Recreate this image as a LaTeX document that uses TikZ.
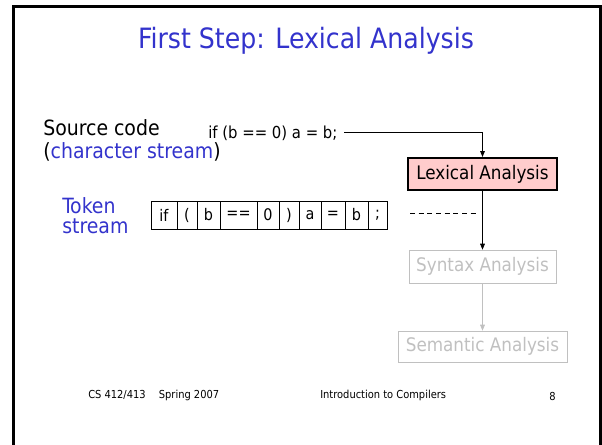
\documentclass[tikz,border=0pt]{standalone}
\usepackage{fontspec}
\setmainfont{DejaVu Sans Condensed}
\usetikzlibrary{positioning}
\usetikzlibrary{arrows.meta}

\definecolor{titleblue}{RGB}{51,51,204}
\definecolor{lexpink}{RGB}{255,204,204}
\definecolor{fadegray}{RGB}{192,192,192}

\tikzset{
  phase/.style={draw, minimum height=24pt, inner sep=0pt, font=\fontsize{14}{16}\selectfont},
  tokcell/.style={draw, line width=0.75pt, minimum height=21pt, inner sep=0pt, outer sep=0pt, font=\fontsize{12}{14}\selectfont},
  sidelabel/.style={anchor=base west, inner sep=0pt, font=\fontsize{15.75}{17}\selectfont},
  footlabel/.style={anchor=base west, inner sep=0pt, font=\fontsize{8.25}{10}\selectfont},
  flow/.style={line width=0.75pt, -{Triangle[length=4.5pt,width=3.5pt]}},
}

\begin{document}
\begin{tikzpicture}[x=0.75pt,y=0.75pt,yscale=-1,xscale=1]
\useasboundingbox (0,0) rectangle (602,444);

%Shape: slide frame
\draw [line width=2.25pt] (13.5,450) -- (13.5,6.5) -- (600,6.5) -- (600,450) ;

% Title
\node [inner sep=0pt, text=titleblue, font=\fontsize{21}{24}\selectfont] (title) at (306,41) {First Step: Lexical Analysis};

% Source code label
\node [sidelabel] (srcname) at (43,135) {Source code};
\node [sidelabel] (srckind) at (43,158) {(\textcolor{titleblue}{character stream})};
% Source text
\node [anchor=base west, inner sep=0pt, font=\fontsize{12.4}{14}\selectfont] (code) at (208,138) {if (b == 0) a = b;};

% Phases
\node [phase, fill=lexpink, line width=1.5pt, minimum width=111.75pt] (lex) at (482.5,174) {Lexical Analysis};
\node [phase, draw=fadegray, text=fadegray, minimum width=110.25pt, minimum height=24.75pt] (syn) at (482.5,266.5) {Syntax Analysis};
\node [phase, draw=fadegray, text=fadegray, minimum width=126.75pt, minimum height=23.25pt] (sem) at (482.5,346.5) {Semantic Analysis};

%Straight Lines
\draw [flow] ([xshift=5pt]code.east) -| (lex.north) ;
\draw [flow] (lex) -- (syn) ;
\draw [flow, fadegray] (syn) -- (sem) ;

% Token stream label
\node [sidelabel, text=titleblue] (tokname) at (62,213) {Token};
\node [sidelabel, text=titleblue] (tokkind) at (62,233) {stream};

% Token cells
\node [tokcell, minimum width=19.5pt, anchor=west] (t1) at (151,215) {if};
\node [tokcell, minimum width=15pt, right=0pt of t1] (t2) {(};
\node [tokcell, minimum width=17.25pt, right=0pt of t2] (t3) {b};
\node [tokcell, minimum width=27.75pt, right=0pt of t3] (t4) {==};
\node [tokcell, minimum width=16.5pt, right=0pt of t4] (t5) {0};
\node [tokcell, minimum width=15pt, right=0pt of t5] (t6) {)};
\node [tokcell, minimum width=16.5pt, right=0pt of t6] (t7) {a};
\node [tokcell, minimum width=18pt, right=0pt of t7] (t8) {=};
\node [tokcell, minimum width=17.25pt, right=0pt of t8] (t9) {b};
\node [tokcell, minimum width=14.25pt, right=0pt of t9] (t10) {;};

%Dashed line
\coordinate (tapL) at (410,213);
\coordinate (tapR) at (479,213);
\draw [line width=0.75pt, dash pattern=on 3.75pt off 2.75pt] (tapL) -- (tapR) ;

% Footer
\node [footlabel] (course) at (88,398) {CS 412/413\hspace{1.2em}Spring 2007};
\node [footlabel] (lecture) at (320,398) {Introduction to Compilers};
\node [footlabel] (pageno) at (549,400) {8};

\end{tikzpicture}
\end{document}
